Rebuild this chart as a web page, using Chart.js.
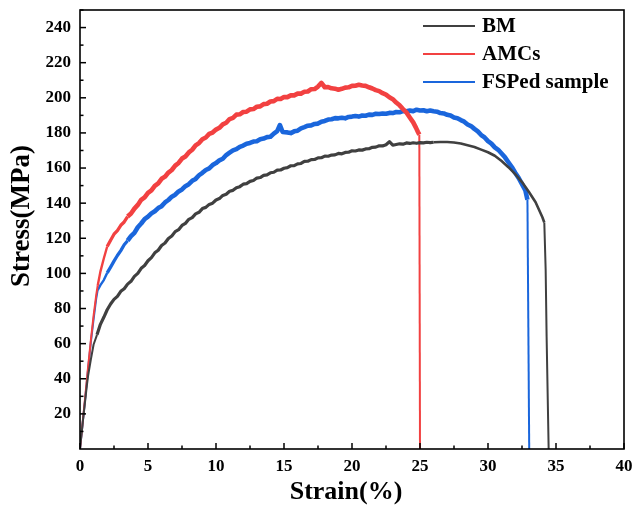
<!DOCTYPE html>
<html>
<head>
<meta charset="utf-8">
<script src="https://cdn.jsdelivr.net/npm/chart.js@4.4.1/dist/chart.umd.min.js"></script>
<style>
  html, body { margin: 0; padding: 0; background: #fff; }
  #wrap { width: 633px; height: 507px; }
</style>
</head>
<body>
<div id="wrap"><canvas id="stressChart" width="633" height="507"></canvas></div>
<script>
// tick labels
const xTicks = [0, 5, 10, 15, 20, 25, 30, 35, 40];
const yTicks = [20, 40, 60, 80, 100, 120, 140, 160, 180, 200, 220, 240];

// BM
const bmStrain = [0, 0.2, 0.4, 0.5, 0.6, 0.8, 1.0, 1.25, 1.5, 1.75,
  2.0, 2.25, 2.5, 2.75, 3.0, 3.25, 3.5, 3.75, 4.0, 4.25, 4.5, 4.75, 5.0, 5.25, 5.5, 5.75, 6.0, 6.25, 6.5, 6.75,
  7.0, 7.25, 7.5, 7.75, 8.0, 8.25, 8.5, 8.75, 9.0, 9.25, 9.5, 9.75, 10.0, 10.25, 10.5, 10.75, 11.0, 11.25, 11.5, 11.75,
  12.0, 12.25, 12.5, 12.75, 13.0, 13.25, 13.5, 13.75, 14.0, 14.25, 14.5, 14.75, 15.0, 15.25, 15.5, 15.75,
  16.0, 16.25, 16.5, 16.75, 17.0, 17.25, 17.5, 17.75, 18.0, 18.25, 18.5, 18.75, 19.0, 19.25, 19.5, 19.75,
  20.0, 20.25, 20.5, 20.75, 21.0, 21.25, 21.5, 21.75, 22.0, 22.25, 22.5, 22.75, 23.0, 23.25, 23.5, 23.75,
  24.0, 24.25, 24.5, 24.75, 25.0, 25.25, 25.5, 25.75, 26.0, 26.5, 27.0, 27.5, 28.0, 28.5, 29.0, 29.5,
  30.0, 30.5, 31.0, 31.5, 32.0, 32.5, 33.0, 33.5, 34.0, 34.14, 34.24, 34.31, 34.46];
const bmStress = [0, 15, 29, 36, 42, 51, 59.5, 65, 71, 75,
  79.3, 82.6, 85.2, 86.9, 89.8, 91.3, 93.9, 95.5, 98.3, 100.0, 102.9, 104.5, 107.2, 109.0, 111.7, 113.2, 115.9, 117.3, 119.9, 121.3,
  123.8, 124.9, 127.3, 128.5, 130.8, 131.8, 133.9, 134.8, 136.9, 137.6, 139.3, 140.0, 141.8, 142.6, 144.4, 145.1, 146.8, 147.3, 148.8, 149.4,
  150.8, 151.1, 152.4, 152.9, 154.3, 154.6, 155.8, 156.1, 157.3, 157.6, 158.8, 158.9, 159.9, 160.2, 161.3, 161.4,
  162.4, 162.6, 163.8, 163.9, 164.8, 164.9, 165.8, 165.9, 166.8, 166.7, 167.4, 167.5, 168.3, 168.1, 168.9, 169.0,
  169.8, 169.7, 170.3, 170.2, 170.9, 171.0, 171.8, 171.9, 172.7, 172.6, 173.3, 175.0, 173.0, 173.4, 173.8, 173.6,
  174.3, 174.0, 174.4, 174.1, 174.5, 174.3, 174.7, 174.5, 174.7, 174.8, 174.8, 174.5, 174, 173, 172, 170.5,
  169, 167, 164, 160.5, 156.5, 152, 146.5, 140.5, 132, 129, 102, 64, 0];

// AMCs
const amcStrain = [0, 0.2, 0.4, 0.6, 0.8, 1.0, 1.2, 1.3, 1.5, 1.75,
  2.0, 2.25, 2.5, 2.75, 3.0, 3.25, 3.5, 3.75, 4.0, 4.25, 4.5, 4.75, 5.0, 5.25, 5.5, 5.75, 6.0, 6.25, 6.5, 6.75,
  7.0, 7.25, 7.5, 7.75, 8.0, 8.25, 8.5, 8.75, 9.0, 9.25, 9.5, 9.75, 10.0, 10.25, 10.5, 10.75, 11.0, 11.25, 11.5, 11.75,
  12.0, 12.25, 12.5, 12.75, 13.0, 13.25, 13.5, 13.75, 14.0, 14.25, 14.5, 14.75, 15.0, 15.25, 15.5, 15.75,
  16.0, 16.25, 16.5, 16.75, 17.0, 17.25, 17.5, 17.75, 18.0, 18.25, 18.5, 18.75, 19.0, 19.25, 19.5, 19.75,
  20.0, 20.25, 20.5, 20.75, 21.0, 21.25, 21.5, 21.75, 22.0, 22.25, 22.5, 22.75, 23.0, 23.25, 23.5, 23.75,
  24.0, 24.25, 24.5, 24.7, 24.85, 24.95, 25.0];
const amcStress = [0, 15.5, 31, 47, 62, 76, 88, 93, 101, 108.5,
  115.3, 118.9, 122.3, 124.4, 127.4, 129.3, 132.4, 134.1, 136.9, 139.0, 141.9, 143.3, 145.9, 147.3, 149.9, 151.3, 153.9, 155.1, 157.4, 158.9,
  161.4, 162.9, 165.4, 166.6, 168.9, 170.4, 172.9, 174.2, 176.4, 177.4, 179.4, 180.2, 181.9, 182.9, 184.9, 185.8, 187.9, 188.6, 190.4, 190.6,
  191.9, 192.1, 193.4, 193.6, 194.9, 195.1, 196.4, 196.6, 197.9, 198.1, 199.4, 199.3, 200.4, 200.4, 201.4, 201.4,
  202.4, 202.4, 203.4, 203.6, 204.9, 205.0, 206.4, 208.5, 206.0, 206.1, 205.4, 205.2, 204.6, 205.1, 205.8, 206.0,
  206.8, 206.9, 207.4, 207.0, 206.8, 206.0, 205.3, 204.4, 203.8, 202.6, 201.8, 200.3, 199.2, 197.3, 195.7, 193.6,
  191.7, 188.8, 186.0, 183, 180.5, 179, 0];

// FSPed sample
const fspStrain = [0, 0.2, 0.4, 0.6, 0.8, 1.0, 1.2, 1.3, 1.5, 1.75,
  2.0, 2.25, 2.5, 2.75, 3.0, 3.25, 3.5, 3.75, 4.0, 4.25, 4.5, 4.75, 5.0, 5.25, 5.5, 5.75, 6.0, 6.25, 6.5, 6.75,
  7.0, 7.25, 7.5, 7.75, 8.0, 8.25, 8.5, 8.75, 9.0, 9.25, 9.5, 9.75, 10.0, 10.25, 10.5, 10.75, 11.0, 11.25, 11.5, 11.75,
  12.0, 12.25, 12.5, 12.75, 13.0, 13.25, 13.5, 13.75, 14.0, 14.25, 14.5, 14.7, 14.9, 15.25, 15.5, 15.75,
  16.0, 16.25, 16.5, 16.75, 17.0, 17.25, 17.5, 17.75, 18.0, 18.25, 18.5, 18.75, 19.0, 19.25, 19.5, 19.75,
  20.0, 20.25, 20.5, 20.75, 21.0, 21.25, 21.5, 21.75, 22.0, 22.25, 22.5, 22.75, 23.0, 23.25, 23.5, 23.75,
  24.0, 24.25, 24.5, 24.75, 25.0, 25.25, 25.5, 25.75, 26.0, 26.25, 26.5, 26.75, 27.0, 27.25, 27.5, 27.75,
  28.0, 28.25, 28.5, 28.75, 29.0, 29.25, 29.5, 29.75, 30.0, 30.25, 30.5, 30.75, 31.0, 31.25, 31.5, 31.75,
  32.0, 32.25, 32.5, 32.75, 32.9, 33.03];
const fspStress = [0, 15, 30, 46, 61, 74, 86, 90.5, 93.3, 96.2,
  100.3, 103.6, 107.0, 110.2, 113.0, 116.3, 118.6, 121.2, 123.1, 126.3, 128.4, 130.9, 132.3, 134.2, 135.4, 137.2, 138.3, 140.4, 141.8, 143.7,
  144.8, 146.7, 147.8, 149.7, 150.8, 152.7, 153.8, 155.9, 157.3, 158.9, 159.8, 161.7, 162.8, 164.4, 165.3, 167.4, 168.8, 170.1, 170.8, 172.1,
  172.8, 173.9, 174.3, 175.1, 175.3, 176.4, 176.8, 177.6, 177.8, 179.6, 181.0, 184.5, 180.5, 180.3, 179.9, 180.9,
  181.3, 182.6, 183.3, 184.1, 184.3, 185.1, 185.3, 186.4, 186.8, 187.6, 187.8, 188.4, 188.3, 188.6, 188.3, 189.1,
  189.3, 189.6, 189.3, 189.9, 189.8, 190.4, 190.3, 190.9, 190.8, 191.1, 190.9, 191.4, 191.3, 191.9, 191.8, 192.4,
  192.3, 192.7, 192.4, 193.2, 192.8, 192.9, 192.3, 192.7, 192.3, 192.1, 191.3, 191.1, 190.3, 189.9, 188.8, 188.4,
  187.3, 186.4, 184.8, 183.9, 182.3, 180.9, 178.8, 177.4, 175.3, 173.9, 171.8, 170.4, 168.3, 166.1, 163.3, 160.6,
  157.3, 154.4, 150.8, 147.2, 142, 0];

const seriesNames = ["BM", "AMCs", "FSPed sample"];
const seriesColors = ["#404040", "#f24141", "#1a66dc"];
const bandWidths = [3.2, 4.6, 4.6];

const serif = "'Liberation Serif', 'Times New Roman', serif";

function toPoints(xs, ys) {
  return xs.map((x, i) => ({ x: x, y: ys[i] }));
}

// thin line for the elastic part and the fracture drop, thick for the noisy band
function segWidth(ctx) {
  const x0 = ctx.p0.parsed.x;
  const dx = ctx.p1.parsed.x - x0;
  const dy = Math.abs(ctx.p1.parsed.y - ctx.p0.parsed.y);
  if (ctx.p1.parsed.x <= 1.3) return 2;
  if (dy / Math.max(dx, 1e-6) > 150) return 2;
  if (ctx.datasetIndex === 0) return x0 >= 26 ? 2.6 : bandWidths[0];
  if (x0 < 2) return 2.4;
  if (x0 < 3.5) return 3.3;
  return bandWidths[ctx.datasetIndex];
}

function makeDataset(i, xs, ys) {
  return {
    label: seriesNames[i],
    data: toPoints(xs, ys),
    borderColor: seriesColors[i],
    backgroundColor: seriesColors[i],
    showLine: true,
    pointRadius: 0,
    borderWidth: bandWidths[i],
    borderJoinStyle: "round",
    borderCapStyle: "butt",
    tension: 0,
    segment: { borderWidth: segWidth },
  };
}

// frame, inner ticks, axis titles and legend
const framePlugin = {
  id: "frame",
  afterDatasetsDraw(chart) {
    const { ctx, chartArea } = chart;
    const xs = chart.scales.x;
    const ys = chart.scales.y;
    const { left, right, top, bottom } = chartArea;
    ctx.save();
    ctx.strokeStyle = "#000";
    ctx.lineWidth = 1.6;
    ctx.strokeRect(left, top, right - left, bottom - top);

    // x ticks (inside)
    ctx.lineWidth = 1.5;
    for (let v = 0; v <= 40; v += 2.5) {
      const px = xs.getPixelForValue(v);
      const len = v % 5 === 0 ? 6 : 3.5;
      ctx.beginPath();
      ctx.moveTo(px, bottom);
      ctx.lineTo(px, bottom - len);
      ctx.stroke();
    }
    // y ticks (inside)
    for (let v = 10; v <= 250; v += 10) {
      const py = ys.getPixelForValue(v);
      const len = v % 20 === 0 ? 6 : 3.5;
      ctx.beginPath();
      ctx.moveTo(left, py);
      ctx.lineTo(left + len, py);
      ctx.stroke();
    }

    // axis titles
    ctx.fillStyle = "#000";
    ctx.font = "bold 26px " + serif;
    ctx.textAlign = "center";
    ctx.textBaseline = "middle";
    ctx.fillText("Strain(%)", 346, 492);
    ctx.save();
    ctx.font = "bold 27px " + serif;
    ctx.translate(22, 216);
    ctx.rotate(-Math.PI / 2);
    ctx.fillText("Stress(MPa)", 0, 0);
    ctx.restore();

    // legend
    ctx.font = "bold 21px " + serif;
    ctx.textAlign = "left";
    chart.data.datasets.forEach((ds, i) => {
      const y = 26 + i * 28;
      ctx.strokeStyle = ds.borderColor;
      ctx.lineWidth = 2;
      ctx.beginPath();
      ctx.moveTo(423, y);
      ctx.lineTo(475, y);
      ctx.stroke();
      ctx.fillStyle = "#000";
      ctx.fillText(ds.label, 482, y + 1);
    });
    ctx.restore();
  },
};

const ctx = document.getElementById("stressChart").getContext("2d");
const stressChart = new Chart(ctx, {
  type: "scatter",
  data: {
    datasets: [
      makeDataset(0, bmStrain, bmStress),
      makeDataset(1, amcStrain, amcStress),
      makeDataset(2, fspStrain, fspStress),
    ],
  },
  options: {
    responsive: false,
    animation: false,
    layout: { padding: { top: 10, right: 9, left: 0, bottom: 0 } },
    plugins: {
      legend: { display: false },
      tooltip: { enabled: false },
    },
    scales: {
      x: {
        type: "linear",
        min: 0,
        max: 40,
        afterBuildTicks: (scale) => {
          scale.ticks = xTicks.map((v) => ({ value: v }));
        },
        afterFit: (scale) => {
          scale.height = 58;
          scale.paddingLeft = 0;
          scale.paddingRight = 0;
        },
        ticks: {
          color: "#000",
          font: { family: serif, size: 17, weight: "bold" },
          padding: 7,
          maxRotation: 0,
        },
        grid: { display: false, drawTicks: false },
        border: { display: false },
      },
      y: {
        type: "linear",
        min: 0,
        max: 250,
        afterBuildTicks: (scale) => {
          scale.ticks = yTicks.map((v) => ({ value: v }));
        },
        afterFit: (scale) => {
          scale.width = 80;
          scale.paddingTop = 0;
          scale.paddingBottom = 0;
        },
        ticks: {
          color: "#000",
          font: { family: serif, size: 17, weight: "bold" },
          padding: 9,
        },
        grid: { display: false, drawTicks: false },
        border: { display: false },
      },
    },
  },
  plugins: [framePlugin],
});
</script>
</body>
</html>
